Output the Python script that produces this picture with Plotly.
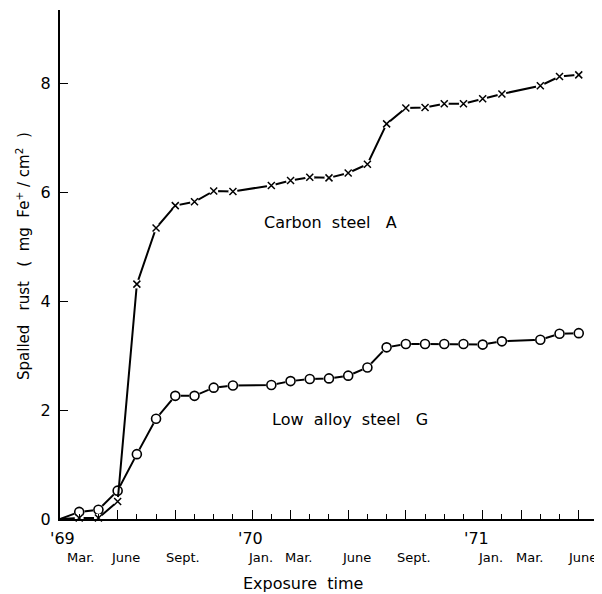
import plotly.graph_objects as go

# Exposure months counted from March 1969 (0 = Mar. '69)
months = [0, 1, 2, 3, 4, 5, 6, 7, 8, 9, 11, 12, 13, 14, 15, 16, 17, 18, 19, 20, 21, 22, 23, 25, 26, 27]
carbon_steel_A = [0.0, 0.02, 0.02, 0.32, 4.31, 5.34, 5.75, 5.82, 6.02, 6.01, 6.12, 6.21, 6.27, 6.26, 6.35,
                  6.51, 7.25, 7.54, 7.55, 7.62, 7.62, 7.71, 7.80, 7.95, 8.12, 8.15]
low_alloy_steel_G = [0.0, 0.13, 0.17, 0.52, 1.19, 1.84, 2.26, 2.26, 2.41, 2.45, 2.46, 2.53, 2.57, 2.58, 2.63,
                     2.78, 3.15, 3.21, 3.21, 3.21, 3.21, 3.20, 3.26, 3.29, 3.40, 3.41]

month_tick_pos = [0, 3, 6, 10, 12, 15, 18, 22, 24, 27]
month_labels = ["Mar.", "June", "Sept.", "Jan.", "Mar.", "June", "Sept.", "Jan.", "Mar.", "June"]
year_tick_pos = [0, 10, 22]
year_labels = ["'69", "'70", "'71"]
y_ticks = [0, 2, 4, 6, 8]

FONT = "DejaVu Sans"
NB = "\u00a0"

fig = go.Figure()

def add_series(y, symbol, size, lw):
    fig.add_trace(go.Scatter(x=months, y=y, mode="lines", cliponaxis=False,
                             line=dict(color="black", width=2), showlegend=False, hoverinfo="skip"))
    # white halo to break the line around markers
    fig.add_trace(go.Scatter(x=months[1:], y=y[1:], mode="markers", cliponaxis=False,
                             marker=dict(symbol="circle", size=size + 2, color="white", line=dict(width=0)),
                             showlegend=False, hoverinfo="skip"))
    fig.add_trace(go.Scatter(x=months[1:], y=y[1:], mode="markers", cliponaxis=False,
                             marker=dict(symbol=symbol, size=size, color="white",
                                         line=dict(color="black", width=lw)),
                             showlegend=False))

add_series(low_alloy_steel_G, "circle", 9, 1.6)
add_series(carbon_steel_A, "x-thin", 7, 1.5)

fig.update_xaxes(range=[0, 27.95], showline=True, linecolor="black", linewidth=1.6,
                 showgrid=False, zeroline=False, showticklabels=False,
                 tickmode="array", tickvals=month_tick_pos, ticks="inside", ticklen=9,
                 tickwidth=1.3, tickcolor="black",
                 minor=dict(tickmode="array", tickvals=list(range(28)), ticks="inside",
                            ticklen=5, tickwidth=1.2, tickcolor="black"))
fig.update_yaxes(range=[0, 9.34], showline=True, linecolor="black", linewidth=2,
                 showgrid=False, zeroline=False, tickmode="array", tickvals=y_ticks,
                 ticks="inside", ticklen=8, tickwidth=1.3, tickcolor="black",
                 tickfont=dict(family=FONT, size=16, color="black"), ticklabelstandoff=4)

# page offset (browser body margin) compensation
OFF = 8
W, H = 602 - OFF, 594 - OFF
L, R, T, B = 60 - OFF, 5, 10 - OFF, 75
pw, ph = W - L - R, H - T - B

def px(xpage):
    return (xpage - OFF - L) / pw

def py(ypage):
    return (H - B - (ypage - OFF)) / ph

annotations = []
n_m = len(month_labels)
for i, (p, t) in enumerate(zip(month_tick_pos, month_labels)):
    shift = 20 if i == 0 else (4 if i == n_m - 1 else 8)
    annotations.append(dict(x=p, y=0, xref="x", yref="paper", text=t, showarrow=False,
                            xanchor="center", yanchor="middle", yshift=-38, xshift=shift,
                            font=dict(family=FONT, size=13, color="black")))
year_shift = [2, -2, -6]
for p, t, s in zip(year_tick_pos, year_labels, year_shift):
    annotations.append(dict(x=p, y=0, xref="x", yref="paper", text=t, showarrow=False,
                            xanchor="center", yanchor="middle", yshift=-19, xshift=s,
                            font=dict(family=FONT, size=16, color="black")))
annotations.append(dict(x=px(303), y=py(583), xref="paper", yref="paper",
                        text="Exposure" + NB + NB + "time",
                        showarrow=False, xanchor="center", yanchor="middle",
                        font=dict(family=FONT, size=16, color="black")))
annotations.append(dict(x=px(23), y=py(256), xref="paper", yref="paper",
                        text="Spalled" + NB * 3 + "rust" + NB * 3 + "(" + NB * 2 + "mg" + NB * 2
                             + "Fe<sup>+</sup>" + NB + "/" + NB + "cm<sup>2</sup>" + NB * 2 + ")",
                        textangle=-90, showarrow=False, xanchor="center", yanchor="middle",
                        font=dict(family=FONT, size=15, color="black")))
annotations.append(dict(x=px(262), y=py(222), xref="paper", yref="paper",
                        text="Carbon" + NB * 2 + "steel" + NB * 3 + "A",
                        showarrow=False, xanchor="left", yanchor="middle",
                        font=dict(family=FONT, size=16, color="black")))
annotations.append(dict(x=px(270), y=py(420), xref="paper", yref="paper",
                        text="Low" + NB * 2 + "alloy" + NB * 2 + "steel" + NB * 3 + "G",
                        showarrow=False, xanchor="left", yanchor="middle",
                        font=dict(family=FONT, size=16, color="black")))

fig.update_layout(width=W, height=H, margin=dict(l=L, r=R, t=T, b=B),
                  plot_bgcolor="white", paper_bgcolor="white",
                  annotations=annotations, font=dict(family=FONT, color="black"))

fig.write_html("out.html")
